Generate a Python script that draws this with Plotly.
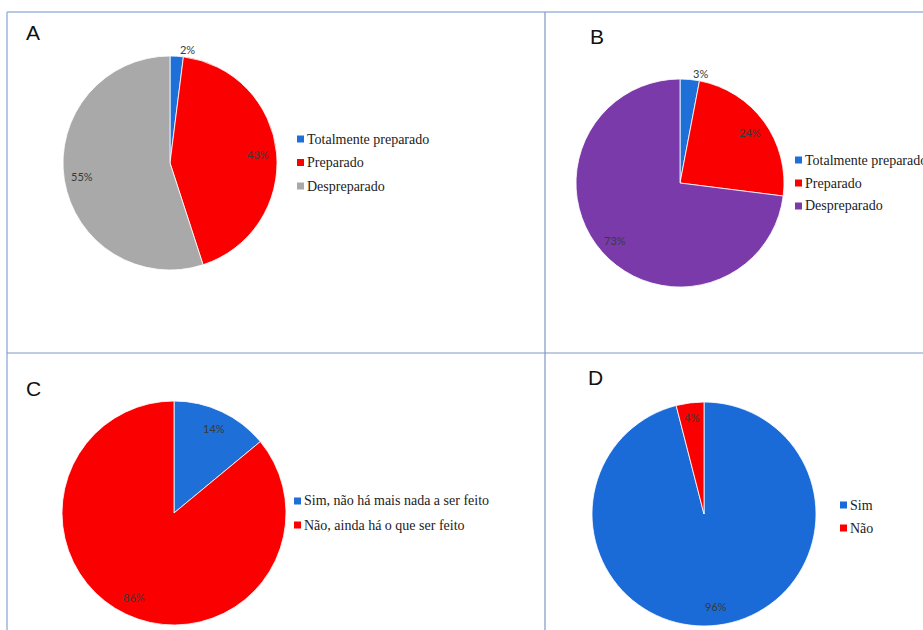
import math
import plotly.graph_objects as go

W, H = 923, 630

# Panel A
a_labels = ["Totalmente preparado", "Preparado", "Despreparado"]
a_values = [2, 43, 55]
a_colors = ["#1f6fd8", "#fb0000", "#a9a9a9"]

# Panel B
b_labels = ["Totalmente preparado", "Preparado", "Despreparado"]
b_values = [3, 24, 73]
b_colors = ["#1f6fd8", "#fb0000", "#7b3aaa"]

# Panel C
c_labels = ["Sim, não há mais nada a ser feito", "Não, ainda há o que ser feito"]
c_values = [14, 86]
c_colors = ["#1f6fd8", "#fb0000"]

# Panel D
d_labels = ["Sim", "Não"]
d_values = [96, 4]
d_colors = ["#1a6ad8", "#fb0000"]

panel_letters = ["A", "B", "C", "D"]


def px(x):
    return x / W


def py(y):
    return 1 - y / H


def pie_domain(cx, cy, r):
    return dict(x=[px(cx - r), px(cx + r)], y=[py(cy + r), py(cy - r)])


pct_font = dict(family="Lato", size=11, color="#3a3a3a")
legend_font = dict(family="Times New Roman", size=14, color="#222222")

panels = [
    # labels, values, colors, centre, radius, legend origin, legend row step
    (a_labels, a_values, a_colors, (170, 163), 107, (297, 139), 23.5),
    (b_labels, b_values, b_colors, (680, 183), 104, (795, 160), 23),
    (c_labels, c_values, c_colors, (174, 513), 112, (294, 501), 24),
    (d_labels, d_values, d_colors, (704, 514), 112, (840, 505), 23),
]

fig = go.Figure()
shapes = []
annotations = []

for labels, values, colors, (cx, cy), r, (lx, ly), step in panels:
    total = sum(values)
    # very thin slices carry their label outside the pie
    tpos = ["outside" if v / total < 0.035 else "none" for v in values]
    fig.add_trace(go.Pie(
        labels=labels,
        values=values,
        marker=dict(colors=colors, line=dict(color="#ffffff", width=0.8)),
        sort=False,
        direction="clockwise",
        rotation=0,
        texttemplate="%{value}%",
        textposition=tpos,
        textfont=pct_font,
        outsidetextfont=pct_font,
        showlegend=False,
        hoverinfo="label+percent",
        domain=pie_domain(cx, cy, r),
    ))

    # in-slice percentage labels, placed along each slice's mid-angle
    cum = 0
    for v, pos in zip(values, tpos):
        mid = (cum + v / 2) / total * 2 * math.pi
        cum += v
        if pos != "none":
            continue
        rf = 0.87 if v / total < 0.08 else 0.83
        x = cx + rf * r * math.sin(mid)
        y = cy - rf * r * math.cos(mid)
        annotations.append(dict(text=f"{v}%", xref="paper", yref="paper",
                                x=px(x), y=py(y), xanchor="center", yanchor="middle",
                                showarrow=False, font=pct_font))

    # legend: colour square + series name
    for i, (lab, col) in enumerate(zip(labels, colors)):
        yy = ly + i * step
        shapes.append(dict(type="rect", xref="paper", yref="paper",
                           x0=px(lx), x1=px(lx + 7), y0=py(yy + 3.5), y1=py(yy - 3.5),
                           fillcolor=col, line=dict(width=0)))
        annotations.append(dict(text=lab, xref="paper", yref="paper",
                                x=px(lx + 8), y=py(yy), xanchor="left", yanchor="middle",
                                showarrow=False, font=legend_font))

# panel letters
for letter, (x, y) in zip(panel_letters, [(24, 32), (588, 36), (24, 388), (586, 377)]):
    annotations.append(dict(text=letter, xref="paper", yref="paper",
                            x=px(x), y=py(y), xanchor="left", yanchor="middle",
                            showarrow=False,
                            font=dict(family="Liberation Sans", size=21, color="#111111")))

# panel frame lines
line_col = "#7f97c4"
shapes += [
    dict(type="line", xref="paper", yref="paper", x0=px(7), x1=1, y0=py(12), y1=py(12),
         line=dict(color="#9fb6de", width=1.5)),
    dict(type="line", xref="paper", yref="paper", x0=px(7), x1=px(7), y0=py(12), y1=0,
         line=dict(color="#9fb6de", width=1.5)),
    dict(type="line", xref="paper", yref="paper", x0=px(545), x1=px(545), y0=py(12), y1=0,
         line=dict(color=line_col, width=1.2)),
    dict(type="line", xref="paper", yref="paper", x0=px(7), x1=1, y0=py(353), y1=py(353),
         line=dict(color=line_col, width=1.2)),
]

fig.update_layout(
    width=W, height=H,
    margin=dict(l=0, r=0, t=0, b=0),
    paper_bgcolor="#ffffff",
    plot_bgcolor="#ffffff",
    shapes=shapes,
    annotations=annotations,
)

fig.write_html("out.html")
